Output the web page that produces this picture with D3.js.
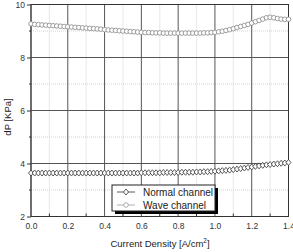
<!DOCTYPE html>
<html><head><meta charset="utf-8">
<script src="https://cdn.jsdelivr.net/npm/d3@7"></script>
<style>body{margin:0;background:#fff}svg{display:block;font-family:"Liberation Sans",Arial,sans-serif}</style>
</head><body><div id="chart"></div>
<script>
const currentDensity = [0.00,0.02,0.04,0.06,0.08,0.10,0.12,0.14,0.16,0.18,0.20,0.22,0.24,0.26,0.28,0.30,0.32,0.34,0.36,0.38,0.40,0.42,0.44,0.46,0.48,0.50,0.52,0.54,0.56,0.58,0.60,0.62,0.64,0.66,0.68,0.70,0.72,0.74,0.76,0.78,0.80,0.82,0.84,0.86,0.88,0.90,0.92,0.94,0.96,0.98,1.00,1.02,1.04,1.06,1.08,1.10,1.12,1.14,1.16,1.18,1.20,1.22,1.24,1.26,1.28,1.30,1.32,1.34,1.36,1.38,1.40];
const normalChannel = [3.64,3.64,3.64,3.64,3.64,3.64,3.64,3.64,3.64,3.64,3.64,3.64,3.64,3.64,3.64,3.64,3.64,3.64,3.64,3.64,3.64,3.64,3.64,3.64,3.64,3.64,3.64,3.64,3.64,3.64,3.65,3.65,3.65,3.65,3.65,3.65,3.66,3.66,3.66,3.66,3.66,3.67,3.67,3.67,3.67,3.68,3.68,3.69,3.69,3.70,3.71,3.72,3.73,3.74,3.75,3.77,3.79,3.81,3.83,3.85,3.87,3.89,3.91,3.93,3.95,3.96,3.98,3.99,4.01,4.02,4.04];
const waveChannel = [9.27,9.25,9.24,9.23,9.22,9.21,9.20,9.19,9.18,9.17,9.16,9.15,9.14,9.13,9.12,9.11,9.10,9.09,9.08,9.07,9.05,9.04,9.03,9.02,9.01,9.00,8.99,8.98,8.97,8.96,8.95,8.94,8.94,8.93,8.93,8.93,8.92,8.92,8.92,8.92,8.92,8.92,8.92,8.92,8.92,8.92,8.92,8.93,8.93,8.94,8.95,8.97,8.99,9.02,9.05,9.09,9.13,9.17,9.21,9.25,9.30,9.35,9.40,9.45,9.50,9.52,9.50,9.47,9.45,9.44,9.44];
const xTicks = [0.0,0.2,0.4,0.6,0.8,1.0,1.2,1.4];
const yTicks = [2,4,6,8,10];
const xMinor = [0.1,0.3,0.5,0.7,0.9,1.1,1.3];
const yMinor = [3,5,7,9];
const seriesNames = ["Normal channel","Wave channel"];

const W=293,H=252;
const svg=d3.select("#chart").append("svg").attr("width",W).attr("height",H);
const x=d3.scaleLinear().domain([0,1.4]).range([31,288.5]);
const y=d3.scaleLinear().domain([2,10]).range([216.5,4.5]);

// minor grid
svg.append("g").selectAll("line").data(xMinor).join("line")
  .attr("x1",d=>x(d)).attr("x2",d=>x(d)).attr("y1",y(10)).attr("y2",y(2))
  .attr("stroke","#c8c8c8").attr("stroke-width",0.8).attr("stroke-dasharray","1,1");
svg.append("g").selectAll("line").data(yMinor).join("line")
  .attr("x1",x(0)).attr("x2",x(1.4)).attr("y1",d=>y(d)).attr("y2",d=>y(d))
  .attr("stroke","#c8c8c8").attr("stroke-width",0.8).attr("stroke-dasharray","1,1");
// major grid
svg.append("g").selectAll("line").data(xTicks).join("line")
  .attr("x1",d=>x(d)).attr("x2",d=>x(d)).attr("y1",y(10)).attr("y2",y(2))
  .attr("stroke","#555").attr("stroke-width",1);
svg.append("g").selectAll("line").data(yTicks).join("line")
  .attr("x1",x(0)).attr("x2",x(1.4)).attr("y1",d=>y(d)).attr("y2",d=>y(d))
  .attr("stroke","#555").attr("stroke-width",1);
// frame
svg.append("rect").attr("x",x(0)).attr("y",y(10)).attr("width",x(1.4)-x(0)).attr("height",y(2)-y(10))
  .attr("fill","none").attr("stroke","#333").attr("stroke-width",1);

// axes
const xAxis=d3.axisBottom(x).tickValues(xTicks).tickFormat(d3.format(".1f")).tickSize(0).tickPadding(6);
const gx=svg.append("g").attr("transform",`translate(0,${y(2)})`).call(xAxis);
gx.select(".domain").remove();
gx.selectAll("text").attr("font-size",8.5).attr("fill","#333").attr("font-family","Liberation Sans, Arial, sans-serif");
svg.append("g").selectAll("line").data(xMinor).join("line")
  .attr("x1",d=>x(d)).attr("x2",d=>x(d)).attr("y1",y(2)).attr("y2",y(2)-3).attr("stroke","#333");

const yAxis=d3.axisLeft(y).tickValues(yTicks).tickSize(4).tickPadding(2);
const gy=svg.append("g").attr("transform",`translate(${x(0)},0)`).call(yAxis);
gy.select(".domain").remove();
gy.selectAll("line").attr("stroke","#333");
gy.selectAll("text").attr("font-size",8.5).attr("fill","#333").attr("font-family","Liberation Sans, Arial, sans-serif");
svg.append("g").selectAll("line").data(yMinor).join("line")
  .attr("x1",x(0)).attr("x2",x(0)-2).attr("y1",d=>y(d)).attr("y2",d=>y(d)).attr("stroke","#333");

// series
const pts=(vals)=>currentDensity.map((c,i)=>[c,vals[i]]);
const diamond=(cx,cy)=>`M${cx},${cy-3}L${cx+2.5},${cy}L${cx},${cy+3}L${cx-2.5},${cy}Z`;
svg.append("path").datum(pts(normalChannel)).attr("fill","none").attr("stroke","#333").attr("stroke-width",0.8)
  .attr("d",d3.line().x(d=>x(d[0])).y(d=>y(d[1])));
svg.append("g").selectAll("path").data(pts(normalChannel)).join("path")
  .attr("d",d=>diamond(x(d[0]),y(d[1]))).attr("fill","#fff").attr("stroke","#333").attr("stroke-width",0.8);
svg.append("path").datum(pts(waveChannel)).attr("fill","none").attr("stroke","#888").attr("stroke-width",0.8)
  .attr("d",d3.line().x(d=>x(d[0])).y(d=>y(d[1])));
svg.append("g").selectAll("circle").data(pts(waveChannel)).join("circle")
  .attr("cx",d=>x(d[0])).attr("cy",d=>y(d[1])).attr("r",2.3).attr("fill","#fff").attr("stroke","#888").attr("stroke-width",0.8);

// legend
const lg=svg.append("g");
lg.append("rect").attr("x",115).attr("y",188).attr("width",103).attr("height",26).attr("fill","#000");
lg.append("rect").attr("x",112).attr("y",185).attr("width",103).attr("height",26).attr("fill","#fff").attr("stroke","#222").attr("stroke-width",1);
const rows=[{name:seriesNames[0],c:"#333",t:"d"},{name:seriesNames[1],c:"#999",t:"c"}];
rows.forEach((r,i)=>{
  const yy=192+i*13;
  lg.append("line").attr("x1",117).attr("x2",135).attr("y1",yy).attr("y2",yy).attr("stroke",r.c).attr("stroke-width",0.8);
  if(r.t==="d") lg.append("path").attr("d",diamond(126,yy)).attr("fill","#fff").attr("stroke",r.c).attr("stroke-width",0.8);
  else lg.append("circle").attr("cx",126).attr("cy",yy).attr("r",2.3).attr("fill","#fff").attr("stroke",r.c).attr("stroke-width",0.8);
  lg.append("text").attr("x",143).attr("y",yy+3.5).attr("font-size",10).attr("fill","#222").text(r.name);
});

// axis titles
svg.append("text").attr("transform","translate(11,117) rotate(-90)").attr("text-anchor","middle")
  .attr("font-size",9.5).attr("fill","#222").text("dP [KPa]");
const xt=svg.append("text").attr("x",160).attr("y",247).attr("text-anchor","middle").attr("font-size",9.5).attr("fill","#222");
xt.append("tspan").text("Current Density [A/cm");
xt.append("tspan").attr("dy",-4).attr("font-size",6.5).text("2");
xt.append("tspan").attr("dy",4).text("]");
</script></body></html>
